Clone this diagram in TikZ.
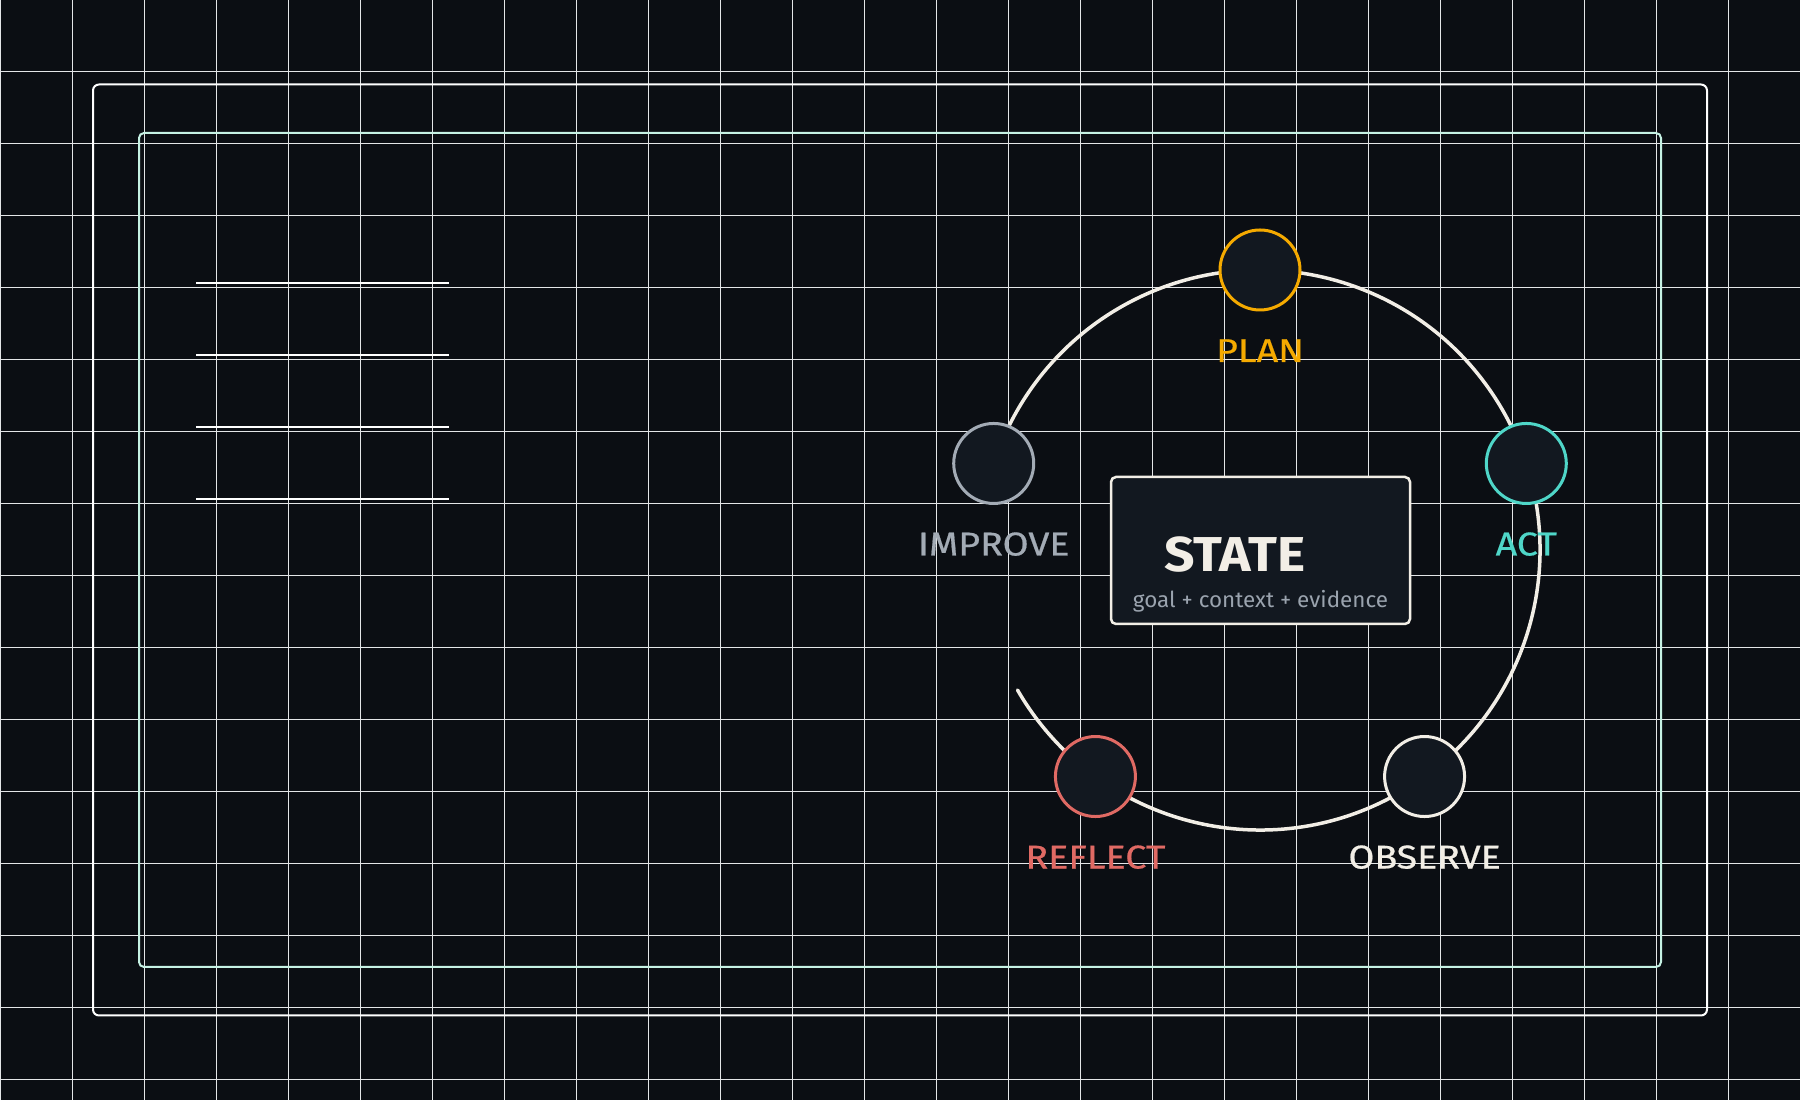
\documentclass[tikz,border=0pt]{standalone}
\usepackage{fontspec}
\usetikzlibrary{calc}
\setmainfont{Fira Sans}
\newfontfamily\labelfont{Fira Sans}[FakeBold=0.5]
\definecolor{bg}{RGB}{11,14,19}
\definecolor{nodefill}{RGB}{18,24,32}
\definecolor{gridc}{RGB}{228,230,232}
\definecolor{planc}{RGB}{245,170,0}
\definecolor{actc}{RGB}{79,214,200}
\definecolor{improvec}{RGB}{163,171,181}
\definecolor{reflectc}{RGB}{224,106,100}
\definecolor{observec}{RGB}{242,238,230}
\definecolor{mintc}{RGB}{198,242,228}
\definecolor{subc}{RGB}{154,163,174}
\tikzset{
  stagecirc/.style={circle, minimum size=80pt, inner sep=0pt, line width=3pt, fill=nodefill},
  stagelabel/.style={font=\labelfont\fontsize{33}{33}\selectfont, inner sep=0pt, anchor=base, xscale=1.14},
  gridline/.style={gridc, line width=1pt},
  listline/.style={white, line width=2pt},
}
\begin{document}
\begin{tikzpicture}[x=1pt,y=1pt]
\useasboundingbox (0,0) rectangle (1800,1100);
\fill[bg] (0,0) rectangle (1800,1100);
% grid
\foreach \i in {0,...,25} { \draw[gridline] (\i*72,0) -- (\i*72,1100); }
\foreach \j in {0,...,15} { \draw[gridline] (0,1100-\j*72) -- (1800,1100-\j*72); }
% frames
\draw[white, line width=2pt, rounded corners=6pt] (93,84.5) rectangle (1707,1015.5);
\draw[mintc, line width=2pt, rounded corners=5pt] (139,133) rectangle (1661,967);
% list lines
\coordinate (l1a) at (196,817); \coordinate (l1b) at (449,817);
\coordinate (l2a) at (196,745); \coordinate (l2b) at (449,745);
\coordinate (l3a) at (196,673); \coordinate (l3b) at (449,673);
\coordinate (l4a) at (196,601); \coordinate (l4b) at (449,601);
\draw[listline] (l1a) -- (l1b);
\draw[listline] (l2a) -- (l2b);
\draw[listline] (l3a) -- (l3b);
\draw[listline] (l4a) -- (l4b);
% ring
\coordinate (ctr) at (1260,550);
\coordinate (ringstart) at ($(ctr)+(210:280)$);
\draw[observec, line width=3.5pt, line cap=round] (ringstart) arc[start angle=210, end angle=522, radius=280];
% stages
\node[stagecirc, draw=planc] (plan) at ($(ctr)+(90:280)$) {};
\node[stagecirc, draw=actc] (act) at ($(ctr)+(18:280)$) {};
\node[stagecirc, draw=observec] (observe) at ($(ctr)+(-54:280)$) {};
\node[stagecirc, draw=reflectc] (reflect) at ($(ctr)+(-126:280)$) {};
\node[stagecirc, draw=improvec] (improve) at ($(ctr)+(162:280)$) {};
\node[stagelabel, text=planc] (planl) at ($(plan)+(0,-92)$) {PLAN};
\node[stagelabel, text=actc] (actl) at ($(act)+(0,-92)$) {ACT};
\node[stagelabel, text=observec] (observel) at ($(observe)+(0,-92)$) {OBSERVE};
\node[stagelabel, text=reflectc] (reflectl) at ($(reflect)+(0,-92)$) {REFLECT};
\node[stagelabel, text=improvec] (improvel) at ($(improve)+(0,-92)$) {IMPROVE};
% state box
\draw[observec, fill=nodefill, line width=2.5pt, rounded corners=5pt] (1111,476) rectangle (1410,623);
\node[anchor=base west, inner sep=0pt, text=observec, font=\bfseries\fontsize{49}{49}\selectfont, xscale=1.09] (statet) at (1164,528) {STATE};
\node[anchor=base, inner sep=0pt, text=subc, font=\fontsize{22}{22}\selectfont, xscale=1.02] (states) at (1260.5,492.3) {goal + context + evidence};
\end{tikzpicture}
\end{document}
